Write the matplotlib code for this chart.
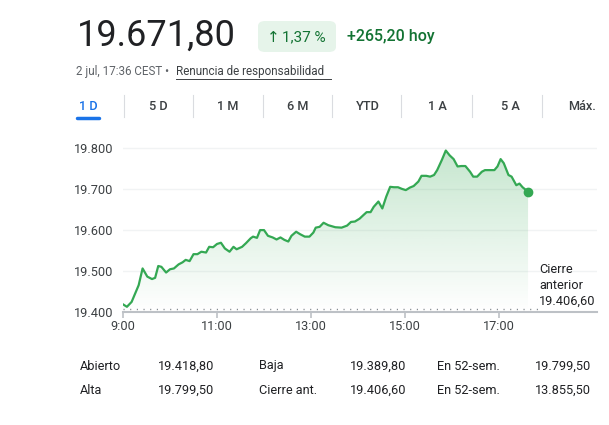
import numpy as np
import matplotlib
matplotlib.use('Agg')
import matplotlib.pyplot as plt
from matplotlib.patches import FancyBboxPatch

plt.rcParams['font.family'] = ['Roboto', 'DejaVu Sans']

# minutes after 9:00 and index value
minutes = [0, 5, 11, 20, 25, 31, 37, 41, 45, 49, 55, 60, 65, 71, 76, 80, 85, 90, 95, 100,
           106, 110, 115, 120, 125, 130, 136, 141, 145, 152, 157, 163, 166, 171, 175, 180,
           185, 191, 196, 201, 206, 211, 215, 221, 226, 232, 238, 243, 246, 251, 256, 262,
           271, 279, 286, 291, 296, 302, 307, 311, 316, 320, 326, 331, 336, 341, 346, 351,
           356, 361, 366, 371, 377, 381, 387, 392, 397, 401, 407, 412, 417, 422, 427, 432,
           437, 443, 447, 452, 458, 462, 469, 474, 478, 482, 486, 492, 496, 502, 506, 510, 517]
values = [19418, 19412, 19424, 19465, 19506, 19486, 19480, 19483, 19512, 19510, 19496, 19504,
          19506, 19516, 19521, 19527, 19524, 19541, 19541, 19547, 19545, 19559, 19558, 19566,
          19569, 19555, 19547, 19559, 19553, 19559, 19568, 19580, 19584, 19581, 19600, 19600,
          19586, 19582, 19577, 19582, 19576, 19572, 19586, 19596, 19590, 19584, 19584, 19594,
          19606, 19608, 19618, 19612, 19607, 19606, 19611, 19620, 19621, 19628, 19637, 19644,
          19644, 19657, 19670, 19653, 19682, 19706, 19705, 19705, 19701, 19698, 19704, 19708,
          19719, 19733, 19733, 19731, 19735, 19747, 19772, 19795, 19783, 19774, 19756, 19757,
          19757, 19743, 19731, 19731, 19743, 19747, 19747, 19747, 19756, 19774, 19764, 19735,
          19731, 19710, 19714, 19705, 19694]
prev_close = 19406.6

y_ticks = [19400, 19500, 19600, 19700, 19800]
y_labels = ['19.400', '19.500', '19.600', '19.700', '19.800']
x_ticks = [0, 120, 240, 360, 480]
x_labels = ['9:00', '11:00', '13:00', '15:00', '17:00']

tabs = ['1 D', '5 D', '1 M', '6 M', 'YTD', '1 A', '5 A', 'Máx.']
stats_labels = [['Abierto', 'Baja', 'En 52-sem.'], ['Alta', 'Cierre ant.', 'En 52-sem.']]
stats_values = [['19.418,80', '19.389,80', '19.799,50'], ['19.799,50', '19.406,60', '13.855,50']]

W, H = 609, 425
green = '#34a853'
dark_green = '#137333'
text_col = '#202124'
gray = '#5f6368'


def px(x, y):
    return x / W, 1 - y / H


fig = plt.figure(figsize=(W / 100, H / 100), dpi=100)

# header
fig.text(*px(77, 36), '19.671,80', fontsize=26, color=text_col, va='center', ha='left')
fig.patches.append(FancyBboxPatch(px(258, 52), 78 / W, 31 / H, boxstyle='round,pad=0,rounding_size=0.012',
                                  transform=fig.transFigure, facecolor='#e6f4ea', edgecolor='none'))
fig.text(*px(267, 37), '↑', fontsize=11, color=dark_green, va='center', ha='left',
         family=['DejaVu Sans'])
fig.text(*px(282, 37), '1,37 %', fontsize=11, color=dark_green, va='center', ha='left')
fig.text(*px(347, 37), '+265,20 hoy', fontsize=11.5, color=dark_green, va='center', ha='left',
         fontweight='medium')
fig.text(*px(76, 72), '2 jul, 17:36 CEST •', fontsize=8.4, color=gray, va='center', ha='left')
fig.text(*px(176, 72), 'Renuncia de responsabilidad', fontsize=8.4, color='#3c4043', va='center', ha='left')
fig.add_artist(plt.Line2D([176 / W, 331 / W], [1 - 79 / H] * 2, color='#3c4043', lw=0.7,
                          transform=fig.transFigure))

# range tabs
tab_x = [88, 158, 228, 298, 368, 437, 510, 582]
for i, (t, x) in enumerate(zip(tabs, tab_x)):
    fig.text(*px(x, 106), t, fontsize=9.2, color='#1a73e8' if i == 0 else '#3c4043',
             va='center', ha='center', fontweight='medium')
for x in [124, 193, 263, 332, 401, 472, 542]:
    fig.add_artist(plt.Line2D([x / W] * 2, [1 - 95 / H, 1 - 117 / H], color='#dadce0', lw=0.8,
                              transform=fig.transFigure))
fig.add_artist(plt.Line2D([77 / W, 99 / W], [1 - 118 / H] * 2, color='#1a73e8', lw=2.5,
                          solid_capstyle='round', transform=fig.transFigure))

# chart
ymax = 19811
ax = fig.add_axes([123 / W, (H - 311.7) / H, 474 / W, (311.7 - 144) / H])
ax.set_xlim(0, 605)
ax.set_ylim(19400, ymax)
for s in ax.spines.values():
    s.set_visible(False)
for yt in y_ticks[1:]:
    ax.axhline(yt, color='#f1f3f4', lw=1, zorder=0)
ax.axhline(19400, color='#bdc1c6', lw=1.5, zorder=3, clip_on=False)

poly = ax.fill_between(minutes, values, 19400, color='none', lw=0)
grad = np.linspace(0, 1, 256).reshape(-1, 1)
rgba = np.zeros((256, 1, 4))
rgba[..., :3] = matplotlib.colors.to_rgb(green)
rgba[..., 3] = 0.28 * grad
img = ax.imshow(rgba[::-1], extent=[0, minutes[-1], 19400, max(values)], aspect='auto',
                origin='upper', zorder=1)
img.set_clip_path(poly.get_paths()[0], transform=ax.transData)

ax.plot(minutes, values, color=green, lw=1.6, zorder=4, solid_joinstyle='round')
ax.plot(minutes[-1], values[-1], 'o', color=green, ms=6, zorder=5)
ax.plot([0, 530], [prev_close, prev_close], color='#80868b', lw=1, linestyle=(0, (0.8, 4)), zorder=2)
ax.text(531, 19520, 'Cierre\nanterior\n19.406,60', fontsize=9.2, color=text_col, va='top', ha='left',
        linespacing=1.3, clip_on=False, zorder=6)

ax.set_yticks(y_ticks)
ax.set_yticklabels(y_labels, fontsize=9.2, color='#3c4043')
ax.set_xticks(x_ticks)
ax.set_xticklabels(x_labels, fontsize=9.2, color='#3c4043')
ax.tick_params(axis='y', length=0, pad=7)
ax.tick_params(axis='x', length=4, width=1.2, color='#bdc1c6', pad=2)

# stats table
col_x = [80, 158, 259, 350, 437, 535]
for r, yy in enumerate([366, 390]):
    for c in range(3):
        fig.text(*px(col_x[2 * c], yy), stats_labels[r][c], fontsize=9.2, color=text_col, va='center')
        fig.text(*px(col_x[2 * c + 1], yy), stats_values[r][c], fontsize=9.2, color=text_col, va='center')

fig.savefig('out.png', dpi=100, facecolor='white')
